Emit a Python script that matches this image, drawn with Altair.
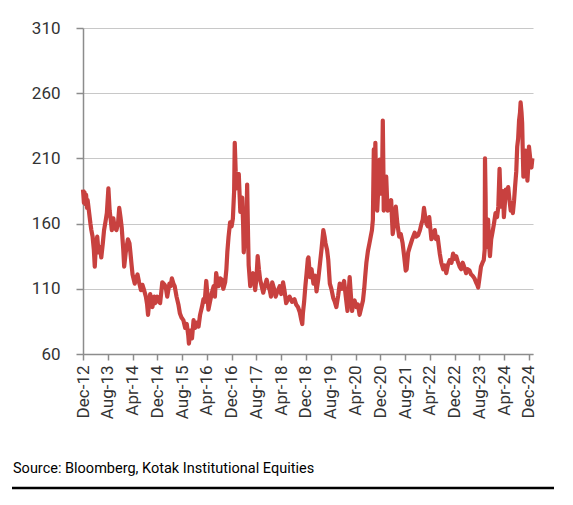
import altair as alt
import pandas as pd

# month offset from Dec-2012 and value
months = [0, 0.3, 0.5, 0.8, 1.0, 1.3, 1.5, 2.0, 2.4, 2.7, 3.1, 3.5, 3.8, 4.2, 4.6, 5.0, 5.5, 5.9, 6.4, 6.8, 7.3, 7.7, 8.2,
          8.6, 9.0, 9.3, 9.8, 10.2, 10.8, 11.3, 11.7, 12.1, 12.5, 13.0, 13.3, 13.8, 14.5, 15.0, 15.3, 15.7, 16.0, 16.7, 17.2,
          17.6, 18.1, 18.7, 19.2, 19.6, 20.3, 20.7, 21.0, 21.4, 21.7, 22.0, 22.4, 23.0, 23.3, 24.0, 24.5, 24.9, 25.3, 25.6, 26.4,
          26.8, 27.2, 27.9, 28.3, 28.7, 29.2, 29.6, 30.2, 30.8, 31.3, 31.8, 32.4, 33.0, 33.5, 34.0, 34.2, 34.7, 35.2, 35.7, 36.2,
          36.8, 37.3, 37.8, 38.4, 38.9, 39.3, 39.8, 40.2, 40.5, 41.0, 41.6, 42.2, 42.6, 43.0, 43.4, 43.8, 44.3, 44.8, 45.3, 45.9,
          46.3, 46.6, 47.0, 47.5, 48.0, 48.4, 48.8, 49.0, 49.3, 49.6, 50.0, 50.3, 50.6, 50.8, 51.1, 51.4, 51.7, 51.9, 52.3, 52.7,
          53.0, 53.3, 53.5, 54.0, 54.4, 54.9, 55.3, 55.6, 56.0, 56.4, 56.8, 57.2, 57.7, 58.2, 58.7, 59.3, 59.8, 60.3, 60.7, 61.1,
          61.7, 62.2, 62.8, 63.5, 64.0, 64.6, 65.1, 65.6, 66.2, 66.7, 67.5, 68.3, 68.8, 69.4, 70.0, 70.5, 70.8, 71.0, 71.4, 71.8,
          72.2, 72.6, 72.8, 73.3, 73.8, 74.4, 75.0, 75.4, 76.0, 76.5, 77.0, 77.6, 78.0, 78.3, 78.8, 79.2, 79.7, 80.2, 80.8, 81.3,
          81.8, 82.4, 82.9, 83.6, 84.3, 84.8, 85.4, 85.8, 86.1, 86.5, 86.9, 87.3, 87.7, 88.3, 88.8, 89.3, 89.8, 90.4, 90.8, 91.1,
          91.5, 92.0, 92.5, 92.9, 93.3, 93.6, 93.9, 94.1, 94.4, 94.7, 95.0, 95.4, 95.8, 96.1, 96.3, 96.6, 96.8, 97.0, 97.1, 97.5,
          97.9, 98.2, 98.4, 99.0, 99.5, 100.0, 100.5, 101.0, 101.5, 102.1, 102.6, 103.2, 103.7, 104.2, 104.5, 105.0, 105.5, 106.3, 107.1, 107.6,
          108.2, 108.8, 109.3, 109.7, 110.1, 110.5, 110.9, 111.3, 111.8, 112.2, 112.5, 113.0, 113.6, 114.0, 114.5, 115.2, 115.7, 116.3, 116.8, 117.3,
          117.8, 118.4, 119.0, 119.5, 120.0, 120.5, 121.0, 121.6, 122.1, 122.6, 123.2, 123.7, 124.2, 124.8, 125.3, 125.8, 126.4, 126.9, 127.3, 127.6,
          128.0, 128.5, 129.0, 129.4, 129.7, 129.8, 130.0, 130.1, 130.5, 130.8, 131.1, 131.4, 131.8, 132.2, 132.7, 133.2, 133.7, 134.1, 134.5, 134.8,
          135.2, 135.6, 135.9, 136.2, 136.5, 136.9, 137.3, 137.7, 138.1, 138.5, 138.8, 139.2, 139.5, 139.9, 140.2, 140.5, 140.8, 141.1, 141.3, 141.6,
          141.8, 142.0, 142.2, 142.6, 142.9, 143.2, 143.5, 143.8, 144.0, 144.4, 144.8, 145.1]

values = [186, 176, 184, 175, 182, 172, 178, 168, 160, 155, 150, 140, 127, 145, 150, 138, 142, 134, 145, 155, 162, 168, 187,
          170, 162, 155, 164, 157, 155, 160, 172, 165, 157, 140, 127, 138, 148, 145, 138, 128, 121, 114, 118,
          121, 115, 109, 113, 110, 104, 98, 90, 100, 106, 100, 96, 104, 99, 104, 100, 99, 108, 115, 113,
          110, 104, 114, 112, 118, 114, 112, 104, 98, 91, 88, 86, 80, 83, 74, 68, 78, 72, 86, 80,
          84, 81, 90, 96, 102, 100, 116, 105, 94, 100, 107, 112, 104, 122, 116, 112, 118, 117, 110, 115,
          125, 138, 150, 161, 158, 164, 185, 222, 200, 187, 196, 198, 180, 169, 175, 180, 160, 138, 150, 151,
          190, 150, 128, 112, 118, 122, 115, 109, 118, 135, 125, 117, 112, 107, 112, 117, 112, 109, 104, 115,
          110, 104, 108, 112, 106, 115, 108, 99, 102, 104, 100, 102, 98, 96, 92, 86, 83, 91, 100, 112,
          122, 133, 134, 119, 125, 114, 120, 108, 118, 129, 140, 155, 150, 145, 140, 132, 114, 110, 103, 100,
          96, 105, 114, 110, 116, 105, 93, 108, 119, 105, 93, 100, 101, 96, 98, 90, 95, 101, 110, 119,
          130, 139, 145, 150, 155, 163, 217, 175, 222, 180, 170, 190, 209, 190, 183, 200, 239, 200, 170, 185,
          196, 178, 170, 175, 178, 152, 160, 173, 160, 150, 152, 145, 135, 124, 125, 138, 142, 148, 153, 150,
          151, 155, 160, 163, 172, 165, 160, 158, 165, 155, 148, 150, 155, 148, 150, 137, 130, 125, 128, 122,
          128, 132, 130, 137, 133, 135, 131, 127, 125, 130, 126, 122, 125, 124, 121, 120, 118, 115, 113, 111,
          118, 127, 130, 132, 140, 210, 180, 142, 150, 163, 145, 135, 148, 153, 160, 168, 165, 173, 202, 180,
          173, 185, 165, 175, 186, 180, 188, 178, 170, 176, 168, 178, 188, 200, 219, 225, 239, 245, 253, 245,
          237, 215, 196, 205, 216, 205, 193, 205, 219, 210, 203, 210]

tick_labels = ["Dec-12", "Aug-13", "Apr-14", "Dec-14", "Aug-15", "Apr-16", "Dec-16", "Aug-17", "Apr-18",
               "Dec-18", "Aug-19", "Apr-20", "Dec-20", "Aug-21", "Apr-22", "Dec-22", "Aug-23", "Apr-24", "Dec-24"]
y_ticks = [60, 110, 160, 210, 260, 310]
source = "Source: Bloomberg, Kotak Institutional Equities"

df = pd.DataFrame({"m": months, "v": values})
tick_pos = [8 * i for i in range(len(tick_labels))]
label_expr = "[" + ",".join("'" + t + "'" for t in tick_labels) + "][round(datum.value / 8)]"

FONT = "Roboto"
line = alt.Chart(df).mark_line(color="#c8413f", strokeWidth=4.2, strokeJoin="round").encode(
    x=alt.X("m:Q", scale=alt.Scale(domain=[0, 145.3], nice=False, zero=False),
            axis=alt.Axis(values=tick_pos, labelExpr=label_expr, title=None, grid=False,
                          labelAngle=270, labelAlign="right", labelBaseline="middle",
                          labelFontSize=17, labelFont=FONT, labelColor="#333333", labelPadding=5,
                          tickSize=6, tickColor="#8c8c8c", domainColor="#8c8c8c", domainWidth=1.5,
                          tickWidth=1.5, labelFlush=False, labelOverlap=False)),
    y=alt.Y("v:Q", scale=alt.Scale(domain=[60, 310], nice=False, zero=False),
            axis=alt.Axis(values=y_ticks, title=None, grid=True, gridColor="#c8c8c8", gridWidth=1.2,
                          labelFontSize=17, labelFont=FONT, labelColor="#333333", labelPadding=16,
                          tickSize=7, tickColor="#8c8c8c", domainColor="#8c8c8c", domainWidth=1.5,
                          tickWidth=1.5, labelFlush=False)),
)

src = alt.Chart(pd.DataFrame({"t": [source]})).mark_text(
    align="left", baseline="middle", font=FONT, fontSize=14.5, color="#000000"
).encode(text="t:N", x=alt.value(-70), y=alt.value(441))

rule = alt.Chart(pd.DataFrame({"a": [0]})).mark_rule(color="#000000", strokeWidth=2.5).encode(
    x=alt.value(-71), x2=alt.value(471), y=alt.value(460))

chart = alt.layer(line, src, rule).properties(
    width=450, height=326,
    autosize=alt.AutoSizeParams(type="none"),
    padding={"left": 75, "top": 20, "right": 32, "bottom": 150},
).configure_view(stroke=None)

chart.save("out.html", embed_options={"renderer": "svg", "actions": False})
